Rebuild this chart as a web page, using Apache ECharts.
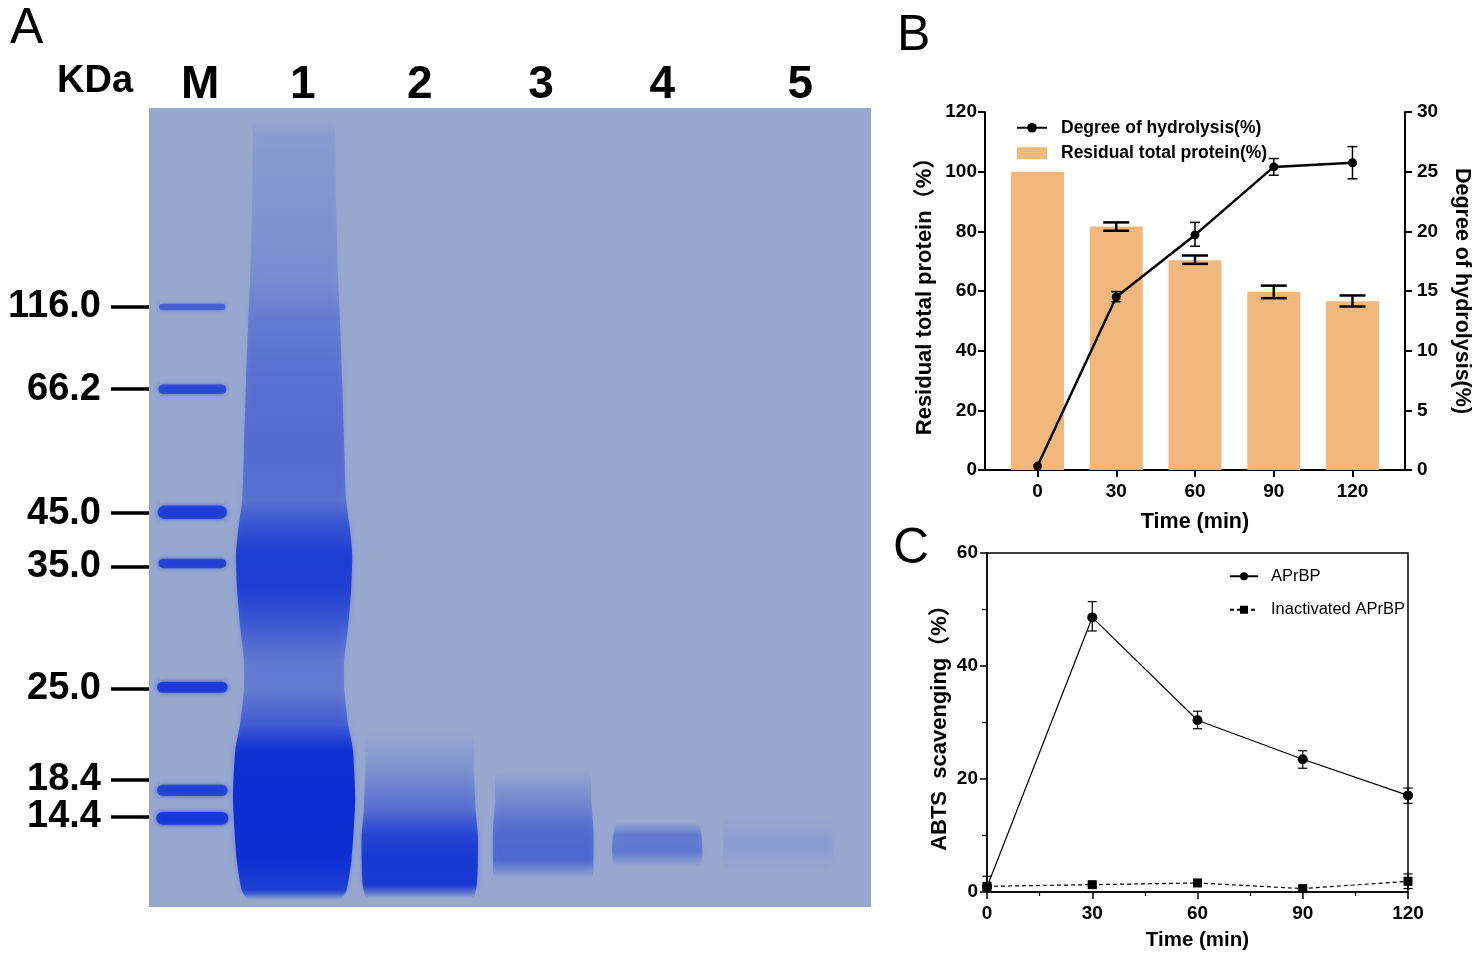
<!DOCTYPE html>
<html>
<head>
<meta charset="utf-8">
<script src="https://cdn.jsdelivr.net/npm/echarts@6/dist/echarts.min.js"></script>
<style>
  html, body { margin: 0; padding: 0; background: #fff; }
  #main { width: 1477px; height: 958px; }
</style>
</head>
<body>
<div id="main"></div>
<script>
var FONT = '"Liberation Sans", Arial, "Noto Sans CJK SC", sans-serif';

// ---- A: SDS-PAGE gel (lane position 0-100 across, migration 0-100 down)
var laneNames = ['M', '1', '2', '3', '4', '5'];
var laneLabelPos = [7.1, 21.3, 37.5, 54.3, 71.1, 90.2];
// marker ladder labels, split over two axes so the close 18.4 / 14.4 pair both show
var markerKDa = ['116.0', '66.2', '45.0', '35.0', '25.0', '18.4'];
var markerTickPos = [24.9, 35.2, 50.7, 57.4, 72.7, 84.1];
var lowMarkerKDa = ['14.4'];
var lowMarkerTickPos = [88.7];

// marker lane bands: [lane centre, migration, width, thickness, stain]
var markerBands = [
  [6.0, 24.9, 9.2, 0.8, 0.5],
  [6.0, 35.2, 9.4, 1.2, 0.65],
  [6.0, 50.6, 9.6, 1.7, 0.72],
  [6.0, 57.0, 9.4, 1.2, 0.7],
  [6.0, 72.5, 9.8, 1.4, 0.75],
  [6.0, 85.4, 9.8, 1.4, 0.7],
  [6.0, 88.9, 10.0, 1.6, 0.8]
];
// sample lanes, stain profile down the lane: [migration, width, stain]
var lane1Profile = [
  [1.2, 11.1, 0.0], [3.4, 11.4, 0.08], [11.5, 11.6, 0.12], [21.5, 12.2, 0.18],
  [26.5, 12.7, 0.3], [34.0, 13.3, 0.38], [42.8, 13.9, 0.42], [49.1, 14.4, 0.38],
  [52.8, 15.5, 0.65], [55.9, 16.1, 0.82], [60.3, 15.8, 0.8], [64.7, 15.0, 0.55],
  [69.1, 13.9, 0.32], [72.8, 13.9, 0.3], [77.2, 15.0, 0.55], [80.4, 16.3, 0.95],
  [86.6, 16.9, 1.0], [94.1, 15.9, 0.97], [97.9, 14.5, 0.8], [99.1, 12.5, 0.0]
];
var lane2Profile = [
  [77.8, 13.9, 0.0], [82.9, 15.0, 0.15], [87.9, 15.5, 0.4], [91.0, 16.1, 0.75],
  [94.1, 16.1, 0.88], [97.2, 15.8, 0.85], [98.9, 14.5, 0.0]
];
var lane3Profile = [
  [82.9, 12.5, 0.0], [86.6, 13.3, 0.2], [90.4, 13.9, 0.42], [94.1, 13.9, 0.45], [96.4, 13.3, 0.0]
];
var lane4Profile = [
  [89.4, 11.1, 0.0], [91.0, 12.2, 0.3], [93.1, 12.5, 0.33], [94.9, 11.6, 0.0]
];
var lane5Profile = [
  [88.5, 13.9, 0.0], [92.2, 15.2, 0.08], [96.0, 13.9, 0.0]
];
var laneCentres = [20.1, 37.5, 54.6, 70.4, 87.1];

// ---- B: hydrolysis
var timeMin = [0, 30, 60, 90, 120];
var residualProtein = [100, 81.6, 70.3, 59.7, 56.6];
var residualLow = [100, 80.2, 69.1, 57.6, 54.8];
var residualHigh = [100, 83.0, 71.9, 61.8, 58.5];
var hydrolysis = [0.33, 14.5, 19.7, 25.4, 25.75];
var hydrolysisLow = [0.33, 14.1, 18.75, 24.7, 24.4];
var hydrolysisHigh = [0.33, 14.95, 20.75, 26.1, 27.1];

// ---- C: ABTS scavenging
var abtsActive = [0.9, 48.6, 30.4, 23.5, 17.1];
var abtsActiveLow = [0.2, 46.2, 28.9, 21.9, 15.7];
var abtsActiveHigh = [2.8, 51.4, 32.0, 25.0, 18.4];
var abtsInactive = [1.0, 1.3, 1.6, 0.6, 1.9];
var abtsInactiveLow = [0.7, 1.0, 1.3, 0.3, 0.6];
var abtsInactiveHigh = [1.3, 1.6, 1.9, 0.9, 3.2];

function pairs(xs, ys) {
  return xs.map(function (x, i) { return [x, ys[i]]; });
}
function errData(xs, lo, hi) {
  var out = [];
  xs.forEach(function (x, i) {
    if (hi[i] > lo[i]) out.push([x, lo[i], hi[i]]);
  });
  return out;
}
function stain(a) { return 'rgba(10,45,212,' + a + ')'; }

// whole lane drawn once as one outline with a stain gradient down it
function laneRenderer(centre, profile) {
  return function (params, api) {
    if (params.dataIndex !== 0) return;
    var left = [], right = [];
    profile.forEach(function (p) {
      left.push(api.coord([centre - p[1] / 2, p[0]]));
      right.push(api.coord([centre + p[1] / 2, p[0]]));
    });
    var top = left[0][1], bottom = left[left.length - 1][1];
    var stops = profile.map(function (p, i) {
      return { offset: (left[i][1] - top) / (bottom - top), color: stain(p[2]) };
    });
    return {
      type: 'polygon',
      shape: { points: left.concat(right.reverse()), smooth: 0.2 },
      style: {
        fill: { type: 'linear', x: 0, y: top, x2: 0, y2: bottom, global: true, colorStops: stops },
        shadowBlur: 6, shadowColor: 'rgba(10,45,212,0.3)'
      }
    };
  };
}

function renderBand(params, api) {
  var c = api.coord([api.value(0), api.value(1)]);
  var s = api.size([api.value(2), api.value(3)]);
  var w = Math.abs(s[0]), h = Math.abs(s[1]);
  var col = stain(api.value(4));
  return {
    type: 'rect',
    shape: { x: c[0] - w / 2, y: c[1] - h / 2, width: w, height: h, r: h / 2 },
    style: { fill: col, shadowBlur: 5, shadowColor: col }
  };
}

function errRender(cap, lw) {
  return function (params, api) {
    var x = api.value(0);
    var lo = api.coord([x, api.value(1)]);
    var hi = api.coord([x, api.value(2)]);
    var st = { stroke: '#000', lineWidth: lw };
    return {
      type: 'group',
      children: [
        { type: 'line', shape: { x1: lo[0], y1: lo[1], x2: hi[0], y2: hi[1] }, style: st },
        { type: 'line', shape: { x1: lo[0] - cap / 2, y1: lo[1], x2: lo[0] + cap / 2, y2: lo[1] }, style: st },
        { type: 'line', shape: { x1: hi[0] - cap / 2, y1: hi[1], x2: hi[0] + cap / 2, y2: hi[1] }, style: st }
      ]
    };
  };
}

var tickLabel = { color: '#000', fontFamily: FONT, fontWeight: 'bold', fontSize: 19 };
function nameFont(size) {
  return { color: '#000', fontFamily: FONT, fontWeight: 'bold', fontSize: size };
}
function markerAxis(positions, labels) {
  return {
    gridIndex: 0, type: 'value', min: 0, max: 100, inverse: true, position: 'left',
    axisLine: { show: false, onZero: false }, splitLine: { show: false },
    axisTick: { customValues: positions, length: 38, lineStyle: { color: '#000', width: 3.5 } },
    axisLabel: {
      customValues: positions, margin: 48, hideOverlap: false, showMinLabel: true, showMaxLabel: true,
      color: '#000', fontFamily: FONT, fontWeight: 'bold', fontSize: 38,
      formatter: function (v) { return labels[positions.indexOf(v)]; }
    }
  };
}

var lanes = [lane1Profile, lane2Profile, lane3Profile, lane4Profile, lane5Profile];
var gelSeries = lanes.map(function (prof, i) {
  return {
    name: 'lane' + (i + 1), type: 'custom', xAxisIndex: 0, yAxisIndex: 0, clip: true,
    renderItem: laneRenderer(laneCentres[i], prof),
    data: prof.map(function (p) { return [laneCentres[i], p[0], p[1], p[2]]; })
  };
});

var chart = echarts.init(document.getElementById('main'));

var option = {
  backgroundColor: '#fff',
  animation: false,
  grid: [
    { left: 149, top: 108, width: 722, height: 799, show: true, backgroundColor: '#97a8cf', borderWidth: 0, outerBoundsMode: 'none' },
    { left: 985, top: 112, width: 420, height: 358, outerBoundsMode: 'none' },
    { left: 987, top: 553, width: 421, height: 339, show: true, borderColor: '#000', borderWidth: 1.5, outerBoundsMode: 'none' }
  ],
  xAxis: [
    {
      gridIndex: 0, type: 'value', min: 0, max: 100, position: 'top',
      axisLine: { show: false }, axisTick: { show: false }, splitLine: { show: false },
      axisLabel: {
        customValues: laneLabelPos, margin: 0, hideOverlap: false,
        color: '#000', fontFamily: FONT, fontWeight: 'bold', fontSize: 46,
        formatter: function (v) { return laneNames[laneLabelPos.indexOf(v)]; }
      }
    },
    {
      gridIndex: 1, type: 'value', min: -20, max: 140,
      axisLine: { onZero: false, lineStyle: { color: '#000', width: 2 } },
      axisTick: { customValues: timeMin, length: 7, lineStyle: { color: '#000', width: 2 } },
      axisLabel: Object.assign({ customValues: timeMin, margin: 12 }, tickLabel),
      splitLine: { show: false },
      name: 'Time (min)', nameLocation: 'middle', nameGap: 41, nameMoveOverlap: false,
      nameTextStyle: nameFont(21.5)
    },
    {
      gridIndex: 2, type: 'value', min: 0, max: 120, interval: 30,
      axisLine: { onZero: false, lineStyle: { color: '#000', width: 1.5 } },
      axisTick: { length: 7, lineStyle: { color: '#000', width: 1.5 } },
      minorTick: { show: true, splitNumber: 2, length: 4, lineStyle: { color: '#000', width: 1.2 } },
      axisLabel: Object.assign({ margin: 12 }, tickLabel),
      splitLine: { show: false },
      name: 'Time (min)', nameLocation: 'middle', nameGap: 38, nameMoveOverlap: false,
      nameTextStyle: nameFont(20.5)
    }
  ],
  yAxis: [
    markerAxis(markerTickPos, markerKDa),
    {
      gridIndex: 1, type: 'value', min: 0, max: 120, interval: 20,
      axisLine: { show: true, onZero: false, lineStyle: { color: '#000', width: 2 } },
      axisTick: { show: true, length: 7, lineStyle: { color: '#000', width: 2 } },
      axisLabel: Object.assign({ margin: 8 }, tickLabel),
      splitLine: { show: false },
      name: 'Residual total protein（%）', nameLocation: 'middle', nameGap: 49, nameRotate: 90,
      nameMoveOverlap: false, nameTextStyle: nameFont(22)
    },
    {
      gridIndex: 1, type: 'value', min: 0, max: 30, interval: 5, position: 'right',
      axisLine: { show: true, onZero: false, lineStyle: { color: '#000', width: 2 } },
      axisTick: { show: true, length: 7, lineStyle: { color: '#000', width: 2 } },
      axisLabel: Object.assign({ margin: 12 }, tickLabel),
      splitLine: { show: false },
      name: 'Degree of hydrolysis(%)', nameLocation: 'middle', nameGap: 46, nameRotate: -90,
      nameMoveOverlap: false, nameTextStyle: nameFont(21.5)
    },
    {
      gridIndex: 2, type: 'value', min: 0, max: 60, interval: 20,
      axisLine: { show: true, onZero: false, lineStyle: { color: '#000', width: 1.5 } },
      axisTick: { show: true, length: 7, lineStyle: { color: '#000', width: 1.5 } },
      minorTick: { show: true, splitNumber: 2, length: 5, lineStyle: { color: '#000', width: 1.2 } },
      axisLabel: Object.assign({ margin: 9 }, tickLabel),
      splitLine: { show: false },
      name: 'ABTS  scavenging（%）', nameLocation: 'middle', nameGap: 36, nameRotate: 90,
      nameMoveOverlap: false, nameTextStyle: nameFont(22)
    },
    markerAxis(lowMarkerTickPos, lowMarkerKDa)
  ],
  legend: [
    {
      data: [{ name: 'Degree of hydrolysis(%)' }, { name: 'Residual total protein(%)', icon: 'rect' }],
      orient: 'vertical', left: 1016, top: 119, padding: 0, itemWidth: 30, itemHeight: 12, itemGap: 8,
      selectedMode: false,
      textStyle: { color: '#000', fontFamily: FONT, fontWeight: 'bold', fontSize: 17.5, padding: [0, 0, 0, 9] }
    },
    {
      data: ['APrBP', 'Inactivated APrBP'],
      orient: 'vertical', left: 1229, top: 568, padding: 0, itemWidth: 28, itemHeight: 10, itemGap: 17,
      selectedMode: false,
      textStyle: { color: '#000', fontFamily: FONT, fontSize: 16.5, padding: [0, 0, 0, 8] }
    }
  ],
  graphic: [
    { type: 'text', left: 10, top: 4, style: { text: 'A', font: '50px ' + FONT, fill: '#000' } },
    { type: 'text', left: 897, top: 11, style: { text: 'B', font: '50px ' + FONT, fill: '#000' } },
    { type: 'text', left: 893, top: 524, style: { text: 'C', font: '50px ' + FONT, fill: '#000' } },
    { type: 'text', left: 57, top: 63, style: { text: 'KDa', font: 'bold 38px ' + FONT, fill: '#000' } }
  ],
  series: gelSeries.concat([
    {
      name: 'marker', type: 'custom', xAxisIndex: 0, yAxisIndex: 0, clip: true,
      renderItem: renderBand, data: markerBands
    },
    {
      name: 'Residual total protein(%)', type: 'bar', xAxisIndex: 1, yAxisIndex: 1,
      barWidth: 53, itemStyle: { color: '#f1b77c' },
      data: pairs(timeMin, residualProtein)
    },
    {
      name: 'residual error', type: 'custom', xAxisIndex: 1, yAxisIndex: 1, z: 3,
      renderItem: errRender(26, 2.5),
      data: errData(timeMin, residualLow, residualHigh)
    },
    {
      name: 'Degree of hydrolysis(%)', type: 'line', xAxisIndex: 1, yAxisIndex: 2, z: 4,
      symbol: 'circle', symbolSize: 9,
      lineStyle: { color: '#000', width: 2.5 }, itemStyle: { color: '#000' },
      data: pairs(timeMin, hydrolysis)
    },
    {
      name: 'hydrolysis error', type: 'custom', xAxisIndex: 1, yAxisIndex: 2, z: 4,
      renderItem: errRender(10, 1.5),
      data: errData(timeMin, hydrolysisLow, hydrolysisHigh)
    },
    {
      name: 'APrBP', type: 'line', xAxisIndex: 2, yAxisIndex: 3,
      symbol: 'circle', symbolSize: 10,
      lineStyle: { color: '#000', width: 1.2 }, itemStyle: { color: '#000' },
      data: pairs(timeMin, abtsActive)
    },
    {
      name: 'APrBP error', type: 'custom', xAxisIndex: 2, yAxisIndex: 3,
      renderItem: errRender(9, 1.2),
      data: errData(timeMin, abtsActiveLow, abtsActiveHigh)
    },
    {
      name: 'Inactivated APrBP', type: 'line', xAxisIndex: 2, yAxisIndex: 3,
      symbol: 'rect', symbolSize: 9,
      lineStyle: { color: '#000', width: 1.2, type: [4, 3] }, itemStyle: { color: '#000' },
      data: pairs(timeMin, abtsInactive)
    },
    {
      name: 'Inactivated error', type: 'custom', xAxisIndex: 2, yAxisIndex: 3,
      renderItem: errRender(9, 1.2),
      data: errData(timeMin, abtsInactiveLow, abtsInactiveHigh)
    }
  ])
};

chart.setOption(option);
</script>
</body>
</html>
